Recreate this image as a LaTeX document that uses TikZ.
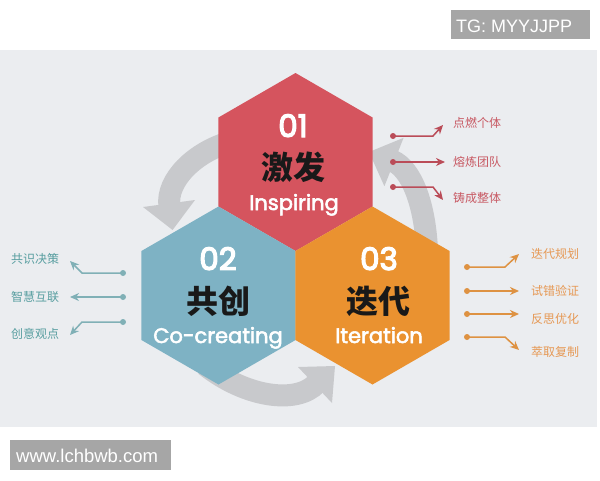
\documentclass[tikz,border=0pt]{standalone}
\usepackage{fontspec}
\setmainfont{Poppins}
\newfontfamily\wordfont{Poppins}[FakeBold=2.5]
\newfontfamily\numfont{Poppins}[FakeBold=4]
\newfontfamily\cjk{Noto Sans CJK SC}
\newfontfamily\lib{Liberation Sans}
\usetikzlibrary{arrows.meta,shapes.geometric}
\definecolor{panel}{HTML}{EBEDF0}
\definecolor{badge}{HTML}{A6A6A6}
\definecolor{hexred}{RGB}{213,84,94}
\definecolor{hexblue}{RGB}{126,178,196}
\definecolor{hexorange}{RGB}{234,146,48}
\definecolor{cyc}{RGB}{200,201,204}
\definecolor{redline}{RGB}{186,76,88}
\definecolor{redtext}{RGB}{200,90,100}
\definecolor{blueline}{RGB}{128,176,182}
\definecolor{bluetext}{RGB}{88,158,160}
\definecolor{orline}{RGB}{222,146,66}
\definecolor{ortext}{RGB}{230,152,84}
\begin{document}
\begin{tikzpicture}[x=1pt,y=-1pt,
  hex/.style={regular polygon, regular polygon sides=6, minimum size=178pt, inner sep=0pt, outer sep=0pt, draw=none, rotate=30},
  num/.style={text=white, font=\numfont\fontsize{31}{31}\selectfont, anchor=base, inner sep=0pt},
  zh/.style={font=\cjk\bfseries\fontsize{32}{32}\selectfont, text=black!90, inner sep=0pt},
  en/.style={text=white, font=\wordfont\fontsize{21}{21}\selectfont, anchor=base, inner sep=0pt},
  band/.style={draw=cyc, line width=22pt},
  head/.style={fill=cyc, draw=none},
  tick/.style={line width=1.5pt, -{Stealth[length=9pt,width=8pt]}},
  dotmark/.style={circle, inner sep=0pt, minimum size=6pt},
  lab/.style={font=\cjk\fontsize{12}{12}\selectfont, anchor=west, inner sep=0pt},
  boxfill/.style={fill=badge, inner sep=0pt, outer sep=0pt},
  boxtext/.style={text=white, font=\lib\fontsize{18}{18}\selectfont, anchor=base west, inner sep=0pt}
]
\useasboundingbox (0,0) rectangle (600,480);
\fill[white] (0,0) rectangle (600,480);
% badges
\node[boxfill, minimum width=139pt, minimum height=29pt] (tgbox) at (520.5,24.5) {};
\node[boxtext] (tg) at (456,32) {TG: MYYJJPP};
% panel
\fill[panel] (0,50) rectangle (597,427);
\node[boxfill, minimum width=161pt, minimum height=30pt] (wbox) at (90.5,455) {};
\node[boxtext, font=\lib\fontsize{18.5}{18.5}\selectfont] (www) at (16,462) {www.lchbwb.com};
% grey cycle arrows
\draw[band] (230,142) .. controls (195,152) and (166,180) .. (169.4,206);
\fill[head] (143,207) -- (195,200) -- (172.6,230) -- cycle;
\draw[band] (427,250) .. controls (425,205) and (412,169) .. (392,160.5);
\fill[head] (403.6,137.8) -- (384.4,186.2) -- (369,152) -- cycle;
\draw[band] (205,365) .. controls (245,397) and (297,405) .. (317,383);
\fill[head] (298,367) -- (332,403) -- (335,366) -- cycle;
% hexagons
\node[hex, fill=hexred] (h1) at (295.5,162) {};
\node[hex, fill=hexblue] (h2) at (218.5,295.5) {};
\node[hex, fill=hexorange] (h3) at (372.5,295.5) {};
% hexagon texts
\node[num] (n1) at (293,137) {01};
\node[zh] (z1) at (293,167) {激发};
\node[en] (e1) at (294,210) {Inspiring};
\node[num] (n2) at (218,270) {02};
\node[zh] (z2) at (218,301) {共创};
\node[en] (e2) at (218,343) {Co-creating};
\node[num] (n3) at (379,270) {03};
\node[zh] (z3) at (378,301) {迭代};
\node[en] (e3) at (379,343) {Iteration};
% red side
\node[dotmark, fill=redline] (r1) at (393,136) {};
\node[dotmark, fill=redline] (r2) at (393,162) {};
\node[dotmark, fill=redline] (r3) at (393,187) {};
\coordinate (r1b) at (433,136); \coordinate (r1e) at (443,125);
\coordinate (r2e) at (445,162);
\coordinate (r3b) at (433,187); \coordinate (r3e) at (443,200);
\draw[tick, redline] (r1.center) -- (r1b) -- (r1e);
\draw[tick, redline] (r2.center) -- (r2e);
\draw[tick, redline] (r3.center) -- (r3b) -- (r3e);
\node[lab, text=redtext] (rt1) at (453,123) {点燃个体};
\node[lab, text=redtext] (rt2) at (453,162) {熔炼团队};
\node[lab, text=redtext] (rt3) at (453,198) {铸成整体};
% blue side
\node[dotmark, fill=blueline] (b1) at (123,273) {};
\node[dotmark, fill=blueline] (b2) at (123,297) {};
\node[dotmark, fill=blueline] (b3) at (123,322) {};
\coordinate (b1b) at (82,273); \coordinate (b1e) at (70,261);
\coordinate (b2e) at (70,297);
\coordinate (b3b) at (82,322); \coordinate (b3e) at (70,335);
\draw[tick, blueline] (b1.center) -- (b1b) -- (b1e);
\draw[tick, blueline] (b2.center) -- (b2e);
\draw[tick, blueline] (b3.center) -- (b3b) -- (b3e);
\node[lab, text=bluetext] (bt1) at (11,259) {共识决策};
\node[lab, text=bluetext] (bt2) at (11,297) {智慧互联};
\node[lab, text=bluetext] (bt3) at (11,334) {创意观点};
% orange side
\node[dotmark, fill=orline] (o1) at (467,267) {};
\node[dotmark, fill=orline] (o2) at (467,291) {};
\node[dotmark, fill=orline] (o3) at (467,314) {};
\node[dotmark, fill=orline] (o4) at (467,337) {};
\coordinate (o1b) at (505,267); \coordinate (o1e) at (519,254);
\coordinate (o2e) at (519,291);
\coordinate (o3e) at (519,314);
\coordinate (o4b) at (505,337); \coordinate (o4e) at (519,350);
\draw[tick, orline] (o1.center) -- (o1b) -- (o1e);
\draw[tick, orline] (o2.center) -- (o2e);
\draw[tick, orline] (o3.center) -- (o3e);
\draw[tick, orline] (o4.center) -- (o4b) -- (o4e);
\node[lab, text=ortext] (ot1) at (531,254) {迭代规划};
\node[lab, text=ortext] (ot2) at (531,291) {试错验证};
\node[lab, text=ortext] (ot3) at (531,319) {反思优化};
\node[lab, text=ortext] (ot4) at (531,352) {萃取复制};
\end{tikzpicture}
\end{document}
